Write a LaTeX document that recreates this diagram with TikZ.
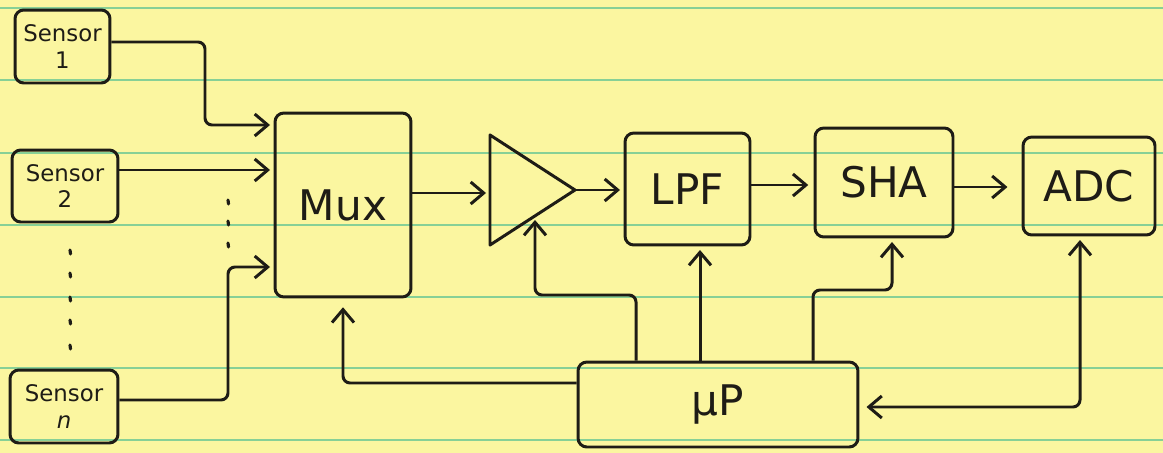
\documentclass[tikz,border=0pt]{standalone}
\usepackage{fontspec}
\setmainfont{DejaVu Sans}
\usetikzlibrary{arrows.meta,calc}
\definecolor{paper}{RGB}{251,246,160}
\definecolor{rule}{RGB}{135,208,150}
\definecolor{ink}{RGB}{30,28,22}
\tikzset{
  blk/.style={draw=ink, line width=1.7pt, rounded corners=5pt, inner sep=0pt, text=ink},
  sens/.style={blk, font=\fontsize{13}{15}\selectfont, align=center},
  big/.style={blk, font=\fontsize{24}{26}\selectfont},
  wire/.style={draw=ink, line width=1.7pt, rounded corners=4pt},
  arr/.style={wire, -{Straight Barb[length=2.6mm,width=4.4mm,line width=1.7pt]}},
  biarr/.style={wire, {Straight Barb[length=2.6mm,width=4.4mm,line width=1.7pt]}-{Straight Barb[length=2.6mm,width=4.4mm,line width=1.7pt]}},
  dotmark/.style={draw=ink, line width=1.8pt, line cap=round}
}
\begin{document}
\begin{tikzpicture}[x=0.02cm,y=-0.02cm]
\fill[paper] (0,0) rectangle (1163,453);
\useasboundingbox (0,0) rectangle (1163,453);
\foreach \yy in {8,80,153,225,297,368,440}
  \draw[rule, line width=1.1pt] (0,\yy) -- (1163,\yy);

% sensors
\node[sens, minimum width=1.9cm, minimum height=1.46cm] (s1) at (62.5,46.5) {Sensor\\1};
\node[sens, minimum width=2.12cm, minimum height=1.44cm] (s2) at (65,186) {Sensor\\2};
\node[sens, minimum width=2.16cm, minimum height=1.46cm] (sn) at (64,406.5) {Sensor\\\textit{n}};

% blocks
\node[big, minimum width=2.72cm, minimum height=3.68cm] (mux) at (343,205) {Mux};
\node[big, minimum width=2.5cm, minimum height=2.24cm] (lpf) at (687.5,189) {LPF};
\node[big, minimum width=2.76cm, minimum height=2.18cm] (sha) at (884,182.5) {SHA};
\node[big, minimum width=2.64cm, minimum height=1.96cm] (adc) at (1089,186) {ADC};
\node[big, minimum width=5.6cm, minimum height=1.7cm] (up) at (718,404.5) {µP};

% amplifier
\coordinate (ampA) at (490,135);
\coordinate (ampB) at (490,245);
\coordinate (ampT) at (575,190);
\coordinate (ampin) at (486,193);
\coordinate (ampbot) at (535,220);
\draw[draw=ink, line width=1.7pt, line join=round] (ampA) -- (ampT) -- (ampB) -- cycle;

% dots
\foreach \yy in {250,273,297,320,345}
  \draw[dotmark] (70,\yy) -- (70.5,\yy+4);
\foreach \yy in {200,221,243}
  \draw[dotmark] (228,\yy) -- (228.5,\yy+4);

% sensor wires
\draw[arr] (s1.east |- 0,42) -| (205,125) -- ([xshift=-2pt]mux.west |- 0,125);
\draw[arr] (s2.east |- 0,170) -- ([xshift=-2pt]mux.west |- 0,170);
\draw[arr] (sn.east |- 0,400) -| (228,267) -- ([xshift=-2pt]mux.west |- 0,267);

% signal chain
\draw[arr] (mux.east |- 0,193) -- (ampin);
\draw[arr] (ampT) -- ([xshift=-2pt]lpf.west |- ampT);
\draw[arr] (lpf.east |- 0,185) -- ([xshift=-3pt]sha.west |- 0,185);
\draw[arr] (sha.east |- 0,187) -- ([xshift=-8pt]adc.west |- 0,187);

% control wires from uP
\draw[arr] (up.west |- 0,383) -| ([yshift=-5pt]mux.south);
\draw[arr] (up.north -| 636,0) |- (535,295) -- (ampbot);
\draw[arr] (up.north -| 700,0) -- ([yshift=-2pt]lpf.south -| 700,0);
\draw[arr] (up.north -| 813,0) |- (892,290) -- ([yshift=-2pt]sha.south -| 892,0);
\draw[biarr] ([yshift=-2pt]adc.south -| 1080,0) |- ([xshift=4pt]up.east |- 0,407);
\end{tikzpicture}
\end{document}
